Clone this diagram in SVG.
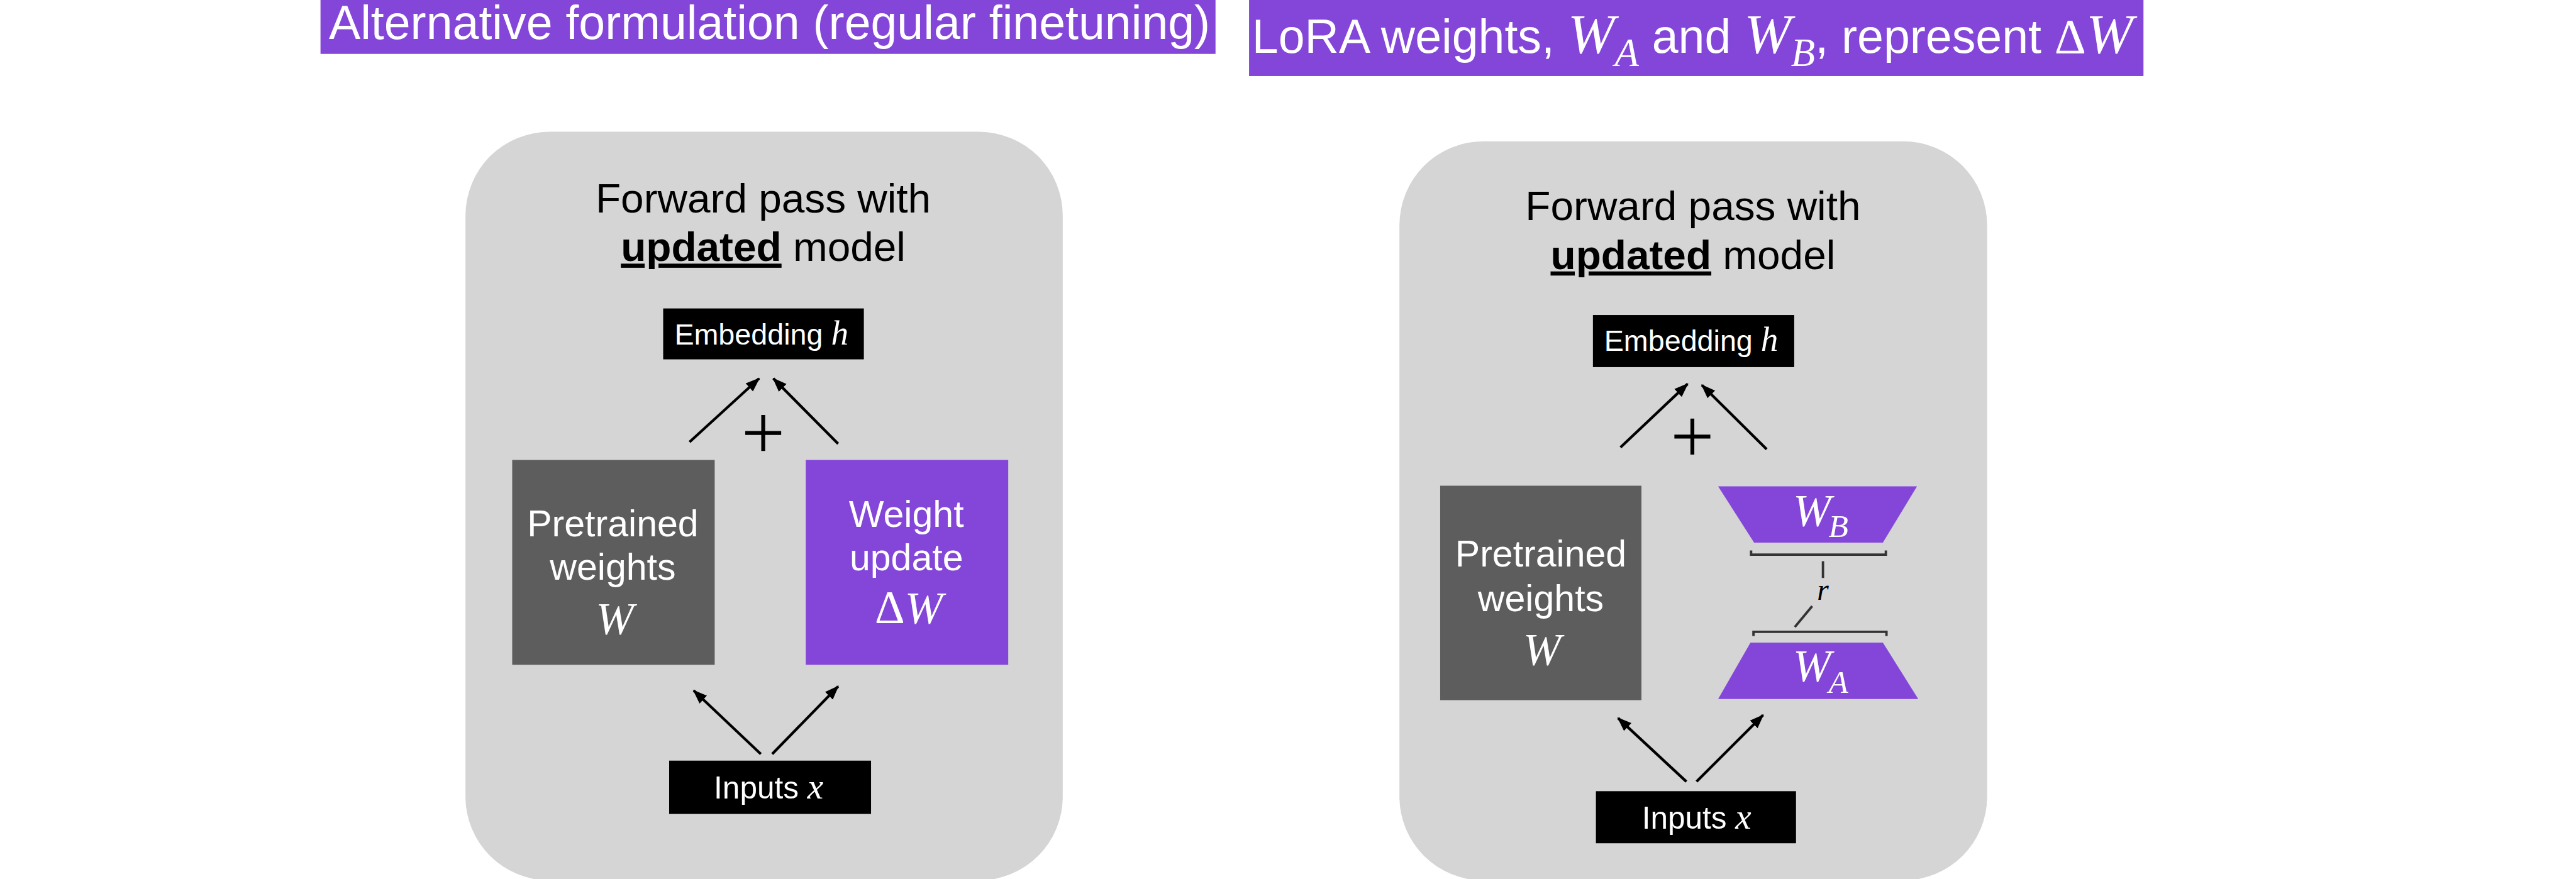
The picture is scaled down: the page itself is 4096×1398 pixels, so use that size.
<svg xmlns="http://www.w3.org/2000/svg" width="4096" height="1398" viewBox="0 0 4096 1398">
  <defs>
    <style>
      .sans { font-family: Arial, "Liberation Sans", Helvetica, sans-serif; }
      .math { font-family: "Times New Roman", "Liberation Serif", serif; font-style: italic; }
      .up { font-family: "Times New Roman", "Liberation Serif", serif; font-style: normal; }
      .banner { fill: #8446d9; }
      .bannertxt { fill: #ffffff; font-size: 79px; }
      .panel { fill: #d5d5d5; }
      .title { fill: #000000; font-size: 69px; }
      .blk { fill: #000000; }
      .gray { fill: #5d5d5d; }
      .purple { fill: #8446d9; }
      .wt { fill: #ffffff; }
      .conn { stroke: #000000; stroke-width: 4.5; fill: none; }
      .brk { stroke: #333333; stroke-width: 4; fill: none; }
    </style>
    <marker id="ah" markerUnits="userSpaceOnUse" markerWidth="24" markerHeight="20" refX="22" refY="10" orient="auto">
      <path d="M0,1 L24,10 L0,19 Z" fill="#000000"/>
    </marker>
  </defs>
  <rect width="4096" height="1398" fill="#ffffff"/>
  <g transform="scale(0.952558)">
    <g id="banner-left">
      <rect class="banner" x="535" y="0" width="1494" height="90"/>
      <text class="sans bannertxt" x="549" y="65">Alternative formulation (regular finetuning)</text>
    </g>
    <g id="banner-right">
      <rect class="banner" x="2085" y="0" width="1493" height="127"/>
      <text class="sans bannertxt" x="2090" y="88" font-size="78">LoRA weights, <tspan class="math" font-size="94">W</tspan><tspan class="math" font-size="66" dy="22">A</tspan><tspan dy="-22"> and </tspan><tspan class="math" font-size="94">W</tspan><tspan class="math" font-size="66" dy="22">B</tspan><tspan dy="-22">, represent </tspan><tspan class="up" font-size="82">Δ</tspan><tspan class="math" font-size="94">W</tspan></text>
    </g>

    <g id="panel-left">
      <rect class="panel" x="777" y="220" width="997" height="1250" rx="140" ry="140"/>
      <text class="sans title" x="1274" y="355" text-anchor="middle">Forward pass with</text>
      <text class="sans title" x="1274" y="436" text-anchor="middle"><tspan font-weight="bold" text-decoration="underline">updated</tspan> model</text>
    </g>
    <g id="panel-right">
      <rect class="panel" x="2336" y="236" width="981" height="1234" rx="140" ry="140"/>
      <text class="sans title" x="2826" y="367" text-anchor="middle">Forward pass with</text>
      <text class="sans title" x="2826" y="449" text-anchor="middle"><tspan font-weight="bold" text-decoration="underline">updated</tspan> model</text>
    </g>

    <g id="left-embedding">
      <rect class="blk" x="1107" y="515" width="335" height="85"/>
      <text class="sans wt" x="1271" y="575" font-size="49" text-anchor="middle">Embedding <tspan class="math" font-size="58">h</tspan></text>
    </g>
    <g id="left-plus">
      <path d="M1244,723 H1304 M1274,693 V753" stroke="#000000" stroke-width="6.5" fill="none"/>
    </g>
    <g id="left-pretrained">
      <rect class="gray" x="855" y="768" width="338" height="342"/>
      <text class="sans wt" x="1023" y="895" font-size="62" text-anchor="middle">Pretrained</text>
      <text class="sans wt" x="1023" y="968" font-size="62" text-anchor="middle">weights</text>
      <text class="math wt" x="1026" y="1058" font-size="76" text-anchor="middle">W</text>
    </g>
    <g id="left-weight-update">
      <rect class="purple" x="1345" y="768" width="338" height="342"/>
      <text class="sans wt" x="1513" y="880" font-size="62" text-anchor="middle">Weight</text>
      <text class="sans wt" x="1513" y="952" font-size="62" text-anchor="middle">update</text>
      <text class="wt" x="1517" y="1040" text-anchor="middle"><tspan class="up" font-size="78">Δ</tspan><tspan class="math" font-size="76">W</tspan></text>
    </g>
    <g id="left-inputs">
      <rect class="blk" x="1117" y="1270" width="337" height="89"/>
      <text class="sans wt" x="1283" y="1333" font-size="52" text-anchor="middle">Inputs <tspan class="math" font-size="60">x</tspan></text>
    </g>

    <g id="right-embedding">
      <rect class="blk" x="2659" y="526" width="336" height="87"/>
      <text class="sans wt" x="2823" y="586" font-size="49" text-anchor="middle">Embedding <tspan class="math" font-size="58">h</tspan></text>
    </g>
    <g id="right-plus">
      <path d="M2795,729 H2855 M2825,699 V759" stroke="#000000" stroke-width="6.5" fill="none"/>
    </g>
    <g id="right-pretrained">
      <rect class="gray" x="2404" y="811" width="336" height="358"/>
      <text class="sans wt" x="2572" y="946" font-size="62" text-anchor="middle">Pretrained</text>
      <text class="sans wt" x="2572" y="1020" font-size="62" text-anchor="middle">weights</text>
      <text class="math wt" x="2574" y="1110" font-size="76" text-anchor="middle">W</text>
    </g>
    <g id="right-wb">
      <polygon class="purple" points="2868,812 3200,812 3143,906 2928,906"/>
      <text class="math wt" x="2993" y="878" font-size="76">W<tspan font-size="54" dx="-4" dy="19">B</tspan></text>
    </g>
    <g id="right-rank">
      <path class="brk" d="M2923,919 V926 H3148 V919"/>
      <text class="math" x="3043" y="1002" font-size="50" text-anchor="middle" fill="#000000">r</text>
      <path class="brk" d="M2927,1062 V1055 H3149 V1062"/>
    </g>
    <g id="right-wa">
      <polygon class="purple" points="2922,1073 3143,1073 3202,1167 2868,1167"/>
      <text class="math wt" x="2993" y="1137" font-size="76">W<tspan font-size="54" dx="-4" dy="20">A</tspan></text>
    </g>
    <g id="right-inputs">
      <rect class="blk" x="2664" y="1321" width="334" height="87"/>
      <text class="sans wt" x="2832" y="1384" font-size="52" text-anchor="middle">Inputs <tspan class="math" font-size="60">x</tspan></text>
    </g>

    <g id="connectors">
      <line class="conn" x1="1151" y1="738" x2="1267" y2="632" marker-end="url(#ah)"/>
      <line class="conn" x1="1399" y1="741" x2="1291" y2="632" marker-end="url(#ah)"/>
      <line class="conn" x1="1270" y1="1259" x2="1158" y2="1153" marker-end="url(#ah)"/>
      <line class="conn" x1="1289" y1="1259" x2="1399" y2="1146" marker-end="url(#ah)"/>
      <line class="conn" x1="2705" y1="747" x2="2817" y2="641" marker-end="url(#ah)"/>
      <line class="conn" x1="2949" y1="750" x2="2841" y2="643" marker-end="url(#ah)"/>
      <line class="conn" x1="2815" y1="1305" x2="2701" y2="1199" marker-end="url(#ah)"/>
      <line class="conn" x1="2832" y1="1305" x2="2943" y2="1194" marker-end="url(#ah)"/>
      <line class="brk" x1="3043" y1="937" x2="3043" y2="965"/>
      <line class="brk" x1="3025" y1="1012" x2="2996" y2="1047"/>
    </g>
  </g>
</svg>
